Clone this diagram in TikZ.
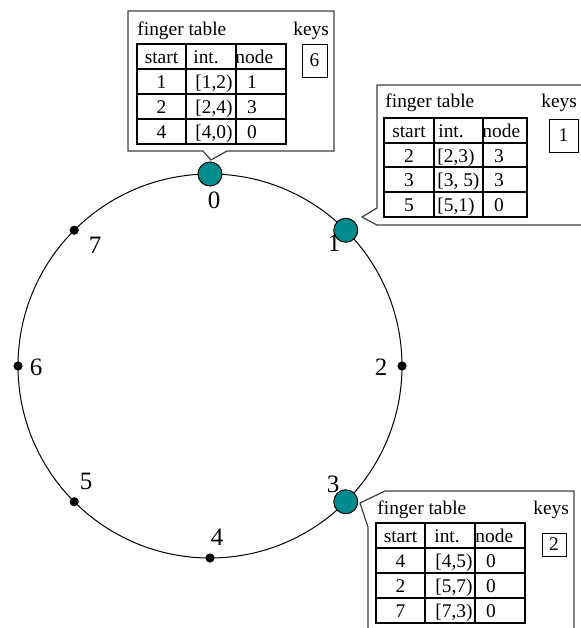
\documentclass[tikz,border=0pt]{standalone}
\usepackage{fontspec}
\setmainfont{Liberation Serif}
\usetikzlibrary{calc}
\definecolor{hostfill}{RGB}{0,140,140}
\begin{document}
\begin{tikzpicture}[x=0.5pt,y=-0.5pt,
    ring/.style={line width=0.5pt},
    dot/.style={circle,fill=black,inner sep=0pt,minimum size=4.6pt},
    host/.style={circle,draw=black,line width=0.5pt,fill=hostfill,inner sep=0pt,minimum size=12pt},
    ringlabel/.style={font=\fontsize{12.5}{14}\selectfont,inner sep=0pt},
    callout/.style={draw=black!75,line width=0.6pt,fill=white},
    tab/.style={draw=black,line width=0.6pt},
    cell/.style={font=\fontsize{9.7}{11}\selectfont,inner sep=0pt,anchor=base},
    lcell/.style={cell,anchor=base west},
    keybox/.style={draw=black,line width=0.5pt,inner sep=0pt,font=\fontsize{9.7}{11}\selectfont}]
  \clip (0,0) rectangle (581,628);

  % the ring and its eight positions
  \coordinate (c) at (210,366);
  \draw[ring] (c) circle[radius=192];
  \foreach \k in {0,...,7}
    \coordinate (p\k) at ($(c)+(-90+45*\k:192)$);
  \foreach \k in {2,4,5,6,7}
    \node[dot] (d\k) at (p\k) {};
  \foreach \k in {0,1,3}
    \node[host] (h\k) at (p\k) {};
  \foreach \k/\x/\y in {0/214/200,1/334/243,2/381/367,3/333/484,4/217/537,5/86/481,6/36/367,7/95/245}
    \node[ringlabel] (l\k) at (\x,\y) {\k};

  % callout of node 0
  \draw[callout] (128,11) -- (334,11) -- (334,151) -- (227,151) -- (211,160) -- (203,151) -- (128,151) -- cycle;
  \node[lcell] (ft0) at (137,35) {finger table};
  \node[lcell] (kt0) at (293,35) {keys};
  \draw[tab] (137,44) rectangle (286,144);
  \foreach \y in {69,94,119} \draw[tab] (137,\y) -- (286,\y);
  \foreach \x in {186,236} \draw[tab] (\x,44) -- (\x,144);
  \node[cell] (s0) at (161.5,63.5) {start};
  \node[lcell] (i0) at (193,63.5) {int.};
  \node[lcell] (n0) at (235,63.5) {node};
  \foreach \r/\s/\iv/\n in {1/1/{[1,2)}/1,2/2/{[2,4)}/3,3/4/{[4,0)}/0} {
    \node[cell] (s0-\r) at (161.5,63.5+25*\r) {\s};
    \node[lcell] (i0-\r) at (195,63.5+25*\r) {\iv};
    \node[cell] (n0-\r) at (252,63.5+25*\r) {\n};
  }
  \node[keybox,minimum width=12.5pt,minimum height=16.5pt] (k0) at (314.5,60.5) {6};

  % callout of node 1
  \draw[callout] (377,85) -- (600,85) -- (600,225) -- (377,225) -- (362,217) -- (377,208) -- cycle;
  \node[lcell] (ft1) at (385,107) {finger table};
  \node[lcell] (kt1) at (541,107) {keys};
  \draw[tab] (384,118) rectangle (527,217);
  \foreach \y in {143,167,192} \draw[tab] (384,\y) -- (527,\y);
  \foreach \x in {434,483} \draw[tab] (\x,118) -- (\x,217);
  \node[cell] (s1) at (409,137.5) {start};
  \node[lcell] (i1) at (438,137.5) {int.};
  \node[lcell] (n1) at (482,137.5) {node};
  \foreach \r/\s/\iv/\n in {1/2/{[2,3)}/3,2/3/{[3, 5)}/3,3/5/{[5,1)}/0} {
    \node[cell] (s1-\r) at (409,137.5+24.7*\r) {\s};
    \node[lcell] (i1-\r) at (437,137.5+24.7*\r) {\iv};
    \node[cell] (n1-\r) at (499,137.5+24.7*\r) {\n};
  }
  \node[keybox,minimum width=14.5pt,minimum height=16.5pt] (k1) at (563.5,135.5) {1};

  % callout of node 3
  \draw[callout] (385,491) -- (574,491) -- (574,640) -- (368,640) -- (368,527) -- (360,503) -- cycle;
  \node[lcell] (ft3) at (377,514) {finger table};
  \node[lcell] (kt3) at (533,514) {keys};
  \draw[tab] (376,523) rectangle (525,623);
  \foreach \y in {548,573,598} \draw[tab] (376,\y) -- (525,\y);
  \foreach \x in {425,475} \draw[tab] (\x,523) -- (\x,623);
  \node[cell] (s3) at (400.5,542.5) {start};
  \node[lcell] (i3) at (434,542.5) {int.};
  \node[lcell] (n3) at (475,542.5) {node};
  \foreach \r/\s/\iv/\n in {1/4/{[4,5)}/0,2/2/{[5,7)}/0,3/7/{[7,3)}/0} {
    \node[cell] (s3-\r) at (400.5,542.5+25*\r) {\s};
    \node[lcell] (i3-\r) at (435,542.5+25*\r) {\iv};
    \node[cell] (n3-\r) at (491,542.5+25*\r) {\n};
  }
  \node[keybox,minimum width=12pt,minimum height=11.5pt] (k3) at (554,544.5) {2};
\end{tikzpicture}
\end{document}
